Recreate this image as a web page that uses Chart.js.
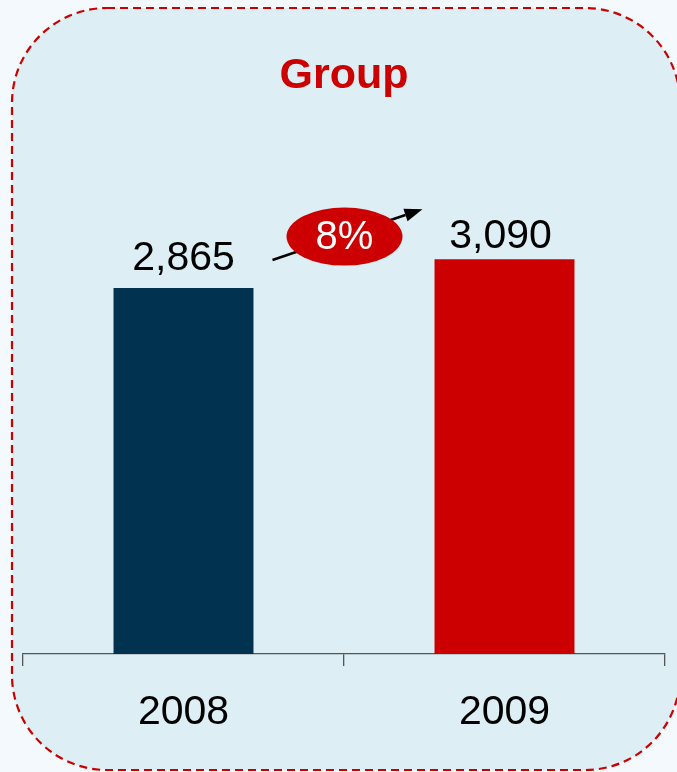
<!DOCTYPE html>
<html>
<head>
<meta charset="utf-8">
<title>Group</title>
<script src="https://cdn.jsdelivr.net/npm/chart.js@4/dist/chart.umd.min.js"></script>
<style>
  html, body { margin: 0; padding: 0; background: #f3f9fc; }
  canvas { display: block; }
</style>
</head>
<body>
<canvas id="chart" width="677" height="772"></canvas>
<script>
// Data
const categories = ['2008', '2009'];
const values = [2865, 3090];
const barColors = ['#01324f', '#cc0000'];
const chartTitle = 'Group';
const yMax = 4000;

const FONT = "'Liberation Sans', Arial, Helvetica, sans-serif";

// Rounded, dashed panel behind the chart
function roundedPath(ctx, x, y, w, h, r) {
  ctx.beginPath();
  ctx.moveTo(x + r, y);
  ctx.lineTo(x + w - r, y);
  ctx.arc(x + w - r, y + r, r, -Math.PI / 2, 0);
  ctx.lineTo(x + w, y + h - r);
  ctx.arc(x + w - r, y + h - r, r, 0, Math.PI / 2);
  ctx.lineTo(x + r, y + h);
  ctx.arc(x + r, y + h - r, r, Math.PI / 2, Math.PI);
  ctx.lineTo(x, y + r);
  ctx.arc(x + r, y + r, r, Math.PI, Math.PI * 1.5);
  ctx.closePath();
}

const panelPlugin = {
  id: 'panel',
  beforeDraw(chart) {
    const ctx = chart.ctx;
    ctx.save();
    roundedPath(ctx, 12, 8, 668, 762, 95);
    ctx.fillStyle = '#ddeff4';
    ctx.fill();
    ctx.setLineDash([8, 5]);
    ctx.lineWidth = 2.2;
    ctx.strokeStyle = '#cc0000';
    ctx.stroke();
    ctx.restore();
  }
};

// Value labels above bars and the growth arrow with its badge
const annotatePlugin = {
  id: 'annotate',
  afterDatasetsDraw(chart) {
    const ctx = chart.ctx;
    const bars = chart.getDatasetMeta(0).data;
    const lift = [18, 11];
    const shift = [0, -4];
    ctx.save();
    ctx.fillStyle = '#000000';
    ctx.font = '41px ' + FONT;
    ctx.textAlign = 'center';
    ctx.textBaseline = 'alphabetic';
    bars.forEach((bar, i) => {
      ctx.fillText(values[i].toLocaleString('en-US'), bar.x + shift[i], bar.y - lift[i]);
    });

    // Arrow from first bar to second
    const b0 = bars[0], b1 = bars[1];
    const sx = b0.x + b0.width / 2 + 19, sy = b0.y - 28;
    const ex = b1.x - b1.width / 2 - 12, ey = b1.y - 50;
    const ang = Math.atan2(ey - sy, ex - sx);
    const headLen = 18, headHalf = 6.5;
    const bx = ex - headLen * Math.cos(ang), by = ey - headLen * Math.sin(ang);
    ctx.strokeStyle = '#000000';
    ctx.lineWidth = 2.5;
    ctx.beginPath();
    ctx.moveTo(sx, sy);
    ctx.lineTo(bx, by);
    ctx.stroke();
    ctx.fillStyle = '#000000';
    ctx.beginPath();
    ctx.moveTo(ex, ey);
    ctx.lineTo(bx + headHalf * Math.sin(ang), by - headHalf * Math.cos(ang));
    ctx.lineTo(bx - headHalf * Math.sin(ang), by + headHalf * Math.cos(ang));
    ctx.closePath();
    ctx.fill();

    // Growth badge
    const cx = (sx + ex) / 2 - 3, cy = (sy + ey) / 2 + 2;
    ctx.fillStyle = '#cc0000';
    ctx.beginPath();
    ctx.ellipse(cx, cy, 58, 29, 0, 0, Math.PI * 2);
    ctx.fill();
    const growth = Math.round((values[1] / values[0] - 1) * 100);
    ctx.fillStyle = '#ffffff';
    ctx.font = '40px ' + FONT;
    ctx.textBaseline = 'middle';
    ctx.fillText(growth + '%', cx, cy + 1);
    ctx.restore();
  }
};

new Chart(document.getElementById('chart'), {
  type: 'bar',
  data: {
    labels: categories,
    datasets: [{
      data: values,
      backgroundColor: barColors,
      borderWidth: 0,
      barPercentage: 0.436,
      categoryPercentage: 1
    }]
  },
  options: {
    responsive: false,
    devicePixelRatio: 1,
    animation: false,
    layout: { padding: { left: 23, right: 12, top: 0, bottom: 0 } },
    plugins: {
      legend: { display: false },
      tooltip: { enabled: false },
      title: {
        display: true,
        text: chartTitle,
        color: '#cc0000',
        font: { family: FONT, size: 43, weight: 'bold', lineHeight: 1.2 },
        padding: { top: 50, bottom: 41.4 }
      }
    },
    scales: {
      x: {
        offset: true,
        grid: {
          display: true,
          offset: true,
          drawOnChartArea: false,
          drawTicks: true,
          tickLength: 12,
          color: '#555555',
          lineWidth: 1.3
        },
        border: { display: true, color: '#555555', width: 1.3 },
        ticks: {
          color: '#000000',
          padding: 22,
          font: { family: FONT, size: 41 }
        },
        afterFit(scale) { scale.height = 118; }
      },
      y: {
        display: false,
        min: 0,
        max: yMax
      }
    }
  },
  plugins: [panelPlugin, annotatePlugin]
});
</script>
</body>
</html>
